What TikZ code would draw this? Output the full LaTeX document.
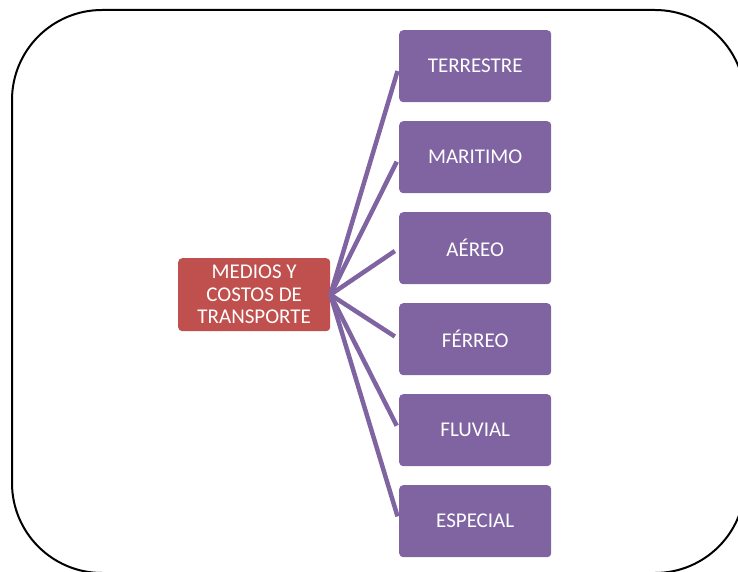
\documentclass[tikz,border=0pt]{standalone}
\usepackage{fontspec}
\setmainfont{Carlito}
\definecolor{boxpurple}{HTML}{8064A2}
\definecolor{boxred}{HTML}{C0504D}
\begin{document}
\begin{tikzpicture}[x=1pt,y=-1pt,
  leaf/.style={fill=boxpurple,draw=none,rounded corners=4pt,minimum width=152pt,minimum height=72pt,
    text=white,font=\fontsize{21}{23}\selectfont,inner sep=0pt,anchor=north west},
  root/.style={fill=boxred,draw=none,rounded corners=4pt,minimum width=152pt,minimum height=73pt,
    text=white,font=\fontsize{21}{22.5}\selectfont,inner sep=0pt,align=center,anchor=north west},
  link/.style={draw=boxpurple,line width=4.5pt,shorten >=5pt}]
\useasboundingbox (0,0) rectangle (738,572);
\begin{scope}
\clip (0,0) rectangle (738,572);
\draw[line width=2pt,rounded corners=90pt] (12,10) rectangle (745,573);
\end{scope}
\node[root] (root) at (178,258) {MEDIOS Y\\COSTOS DE\\TRANSPORTE};
\node[leaf] (n1) at (399,30) {TERRESTRE};
\node[leaf] (n2) at (399,121) {MARITIMO};
\node[leaf] (n3) at (399,212) {AÉREO};
\node[leaf] (n4) at (399,303) {FÉRREO};
\node[leaf] (n5) at (399,394) {FLUVIAL};
\node[leaf] (n6) at (399,485) {ESPECIAL};
\foreach \n in {n1,n2,n3,n4,n5,n6}{
  \draw[link] (root.east) -- (\n.west);
}
\end{tikzpicture}
\end{document}
